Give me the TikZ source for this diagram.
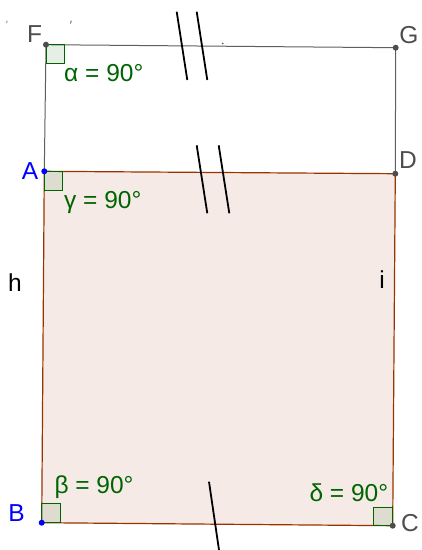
\documentclass[tikz,border=0pt]{standalone}
\usepackage{fontspec}
\setmainfont{Liberation Sans}
\usepackage{tikz}
\usetikzlibrary{calc}
\definecolor{rust}{RGB}{153,51,0}
\definecolor{leaf}{RGB}{0,100,0}
\definecolor{pointgray}{RGB}{77,77,77}
\definecolor{edgegray}{RGB}{95,95,95}

\begin{document}
\begin{tikzpicture}[x=1pt,y=-1pt,font=\fontsize{24.5}{28}\selectfont]
  \useasboundingbox (0,0) rectangle (422,550);
  \coordinate (F) at (46,44.7);
  \coordinate (G) at (395.7,47.7);
  \coordinate (A) at (44.3,171.3);
  \coordinate (D) at (395.3,173.7);
  \coordinate (B) at (41.7,522.7);
  \coordinate (C) at (392.7,525.7);
  \fill[rust,opacity=0.1] (A)--(B)--(C)--(D)--cycle;
  \draw[edgegray,line width=1pt] (A)--(F)--(G)--(D);
  \draw[rust,line width=1.2pt] (A)--(B)--(C)--(D)--cycle;
  % right angle marks
  \filldraw[leaf,fill opacity=0.1,line width=0.8pt] (F) rectangle ++(18,19);
  \filldraw[leaf,fill opacity=0.1,line width=0.8pt] (A) rectangle ++(18.5,19);
  \filldraw[leaf,fill opacity=0.1,line width=0.8pt] (B) rectangle ++(19,-19);
  \filldraw[leaf,fill opacity=0.1,line width=0.8pt] (C) rectangle ++(-19.5,-18);
  % equal sides
  \foreach \dx in {0,20} {
    \draw[black,line width=1.8pt] (176.7+\dx,11.7)--(187.3+\dx,80);
    \draw[black,line width=1.8pt] (196.7+1.1*\dx,145.3)--(207.3+1.1*\dx,213.3);
  }
  \draw[black,line width=1.8pt] (209,481.7)--(219,550);
  \foreach \p in {F,G,D,C} \fill[pointgray] (\p) circle (3);
  \foreach \p in {A,B} \fill[blue] (\p) circle (3);
  \node[pointgray] (lF) at (34.5,34.5) {F};
  \node[pointgray] (lG) at (409,35) {G};
  \node[blue] (lA) at (30,171) {A};
  \node[pointgray] (lD) at (408,160) {D};
  \node[blue] (lB) at (16.5,513) {B};
  \node[pointgray] (lC) at (410,523) {C};
  \node (lh) at (15,283) {h};
  \node (li) at (382,280) {i};
  \node[leaf,anchor=base west,inner sep=0] (alpha) at (64,81) {α = 90°};
  \node[leaf,anchor=base west,inner sep=0] (gamma) at (64,208.3) {γ = 90°};
  \node[leaf,anchor=base west,inner sep=0] (beta) at (54.3,493.3) {β = 90°};
  \node[leaf,anchor=base west,inner sep=0] (delta) at (309.3,501.7) {δ = 90°};
  \node[pointgray,font=\fontsize{9}{10}\selectfont] (tick1) at (7,24) {′};
  \node[pointgray,font=\fontsize{12}{12}\selectfont] (tick2) at (71,25) {′};
  \fill[pointgray] (222.7,43.5) circle (0.9);
\end{tikzpicture}
\end{document}
